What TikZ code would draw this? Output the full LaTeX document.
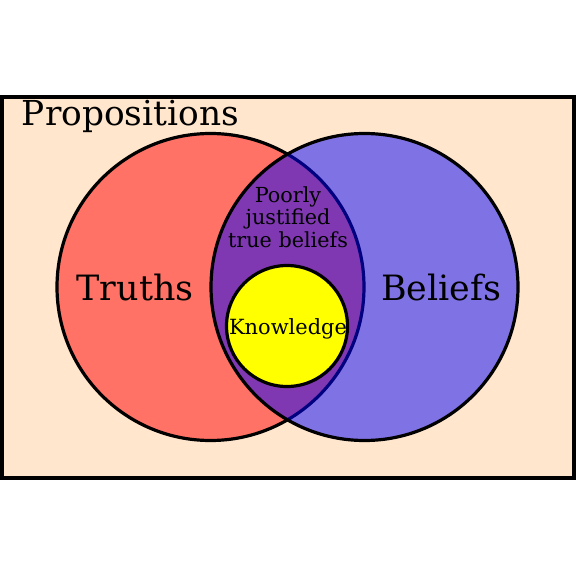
\documentclass[tikz,border=0pt]{standalone}
\usepackage{fontspec}
\setmainfont{DejaVu Serif}
\definecolor{peach}{RGB}{255,230,204}
\definecolor{knowyellow}{RGB}{255,255,0}

\begin{document}
\begin{tikzpicture}[x=1bp,y=-1bp,line width=3.2bp]
\useasboundingbox (0,0) rectangle (576,576);
\draw[fill=peach] (2,97) rectangle (574,478);
\draw[fill=red,fill opacity=0.5] (210.5,287) circle[radius=153.5];
\draw[fill=blue,fill opacity=0.5] (364.5,287) circle[radius=153.5];
\draw[fill=knowyellow] (287,326) circle[radius=60.5];
\node[anchor=west,font=\fontsize{34.5}{36}\selectfont] (props) at (17,116) {Propositions};
\node[font=\fontsize{35}{36}\selectfont] (truths) at (135,287) {Truths};
\node[font=\fontsize{35}{36}\selectfont] (beliefs) at (441,287) {Beliefs};
\node[align=center,font=\fontsize{20.8}{22.8}\selectfont] (pjtb) at (288,217)
 {Poorly\\justified\\true beliefs};
\node[font=\fontsize{21}{22}\selectfont] (know) at (288,329) {Knowledge};
\end{tikzpicture}
\end{document}
